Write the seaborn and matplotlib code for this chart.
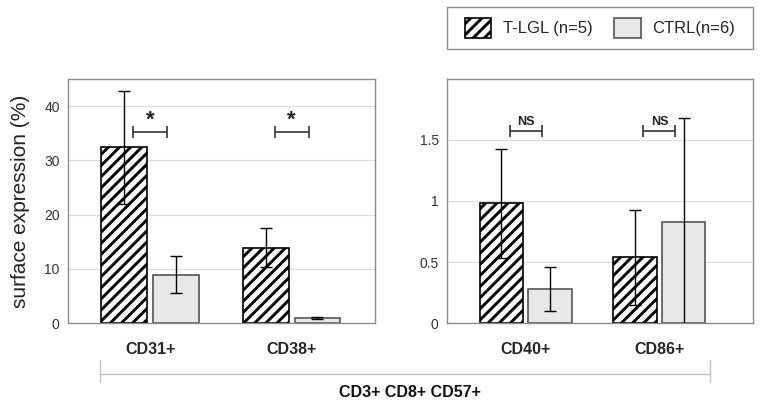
import numpy as np
import pandas as pd
import matplotlib
matplotlib.use("Agg")
import matplotlib.pyplot as plt
import seaborn as sns
from matplotlib.lines import Line2D
from matplotlib.patches import Patch, Rectangle

# values
groups = ["T-LGL (n=5)", "CTRL(n=6)"]

markers_left = ["CD31+", "CD38+"]
tlgl_left = [32.4, 13.9]
tlgl_left_sd = [10.4, 3.6]
ctrl_left = [8.9, 0.9]
ctrl_left_sd = [3.45, 0.12]
sig_left = ["*", "*"]
sig_left_y = [35.2, 35.2]

markers_right = ["CD40+", "CD86+"]
tlgl_right = [0.98, 0.54]
tlgl_right_sd = [0.45, 0.39]
ctrl_right = [0.28, 0.83]
ctrl_right_sd = [0.18, 0.85]
sig_right = ["NS", "NS"]
sig_right_y = [1.57, 1.57]

group_label = "CD3+ CD8+ CD57+"

sns.set_style("white")
plt.rcParams["font.family"] = ["Liberation Sans", "DejaVu Sans"]
plt.rcParams["hatch.linewidth"] = 2.1

fill_colors = ["white", "#e8e8e8"]
edge_colors = ["black", "#555555"]
hatches = ["///", ""]
frame_color = "#8c8c8c"


def draw_panel(ax, markers, tlgl, tlgl_sd, ctrl, ctrl_sd, sig, sig_y, sig_size, sig_offset):
    df = pd.DataFrame({
        "marker": markers * 2,
        "group": [groups[0]] * len(markers) + [groups[1]] * len(markers),
        "value": tlgl + ctrl,
    })
    sns.barplot(data=df, x="marker", y="value", hue="group", hue_order=groups,
                palette=fill_colors, saturation=1, width=0.73, gap=0.115,
                errorbar=None, legend=False, ax=ax, zorder=2)

    for k, (container, vals, sds) in enumerate(zip(ax.containers, [tlgl, ctrl], [tlgl_sd, ctrl_sd])):
        for bar, v, s in zip(container, vals, sds):
            bar.set_hatch(hatches[k])
            bar.set_edgecolor(edge_colors[k])
            bar.set_linewidth(1.2)
            cx = bar.get_x() + bar.get_width() / 2
            ax.errorbar(cx, v, yerr=s, color="black", lw=1, capsize=4,
                        capthick=1, zorder=5)

    # significance brackets
    xs = np.arange(len(markers))
    ax.errorbar(xs, sig_y, xerr=0.12, fmt="none", ecolor="#333333", lw=1.2,
                capsize=4, capthick=1.2, zorder=5)
    for x, y, s in zip(xs, sig_y, sig):
        ax.text(x, y + sig_offset, s, ha="center", va="bottom",
                fontsize=sig_size, fontweight="bold", color="#222222")

    for sp in ax.spines.values():
        sp.set_visible(True)
        sp.set_color(frame_color)
        sp.set_linewidth(1)
    ax.yaxis.grid(True, color="#dcdcdc", lw=0.8)
    ax.set_axisbelow(True)
    ax.set_xlabel("")
    ax.set_ylabel("")
    ax.tick_params(axis="x", length=0, pad=14, labelsize=11.5)
    ax.tick_params(axis="y", length=3, color=frame_color, labelcolor="#333333",
                   labelsize=10, pad=3)
    for lab in ax.get_xticklabels():
        lab.set_fontweight("bold")


fig = plt.figure(figsize=(7.61, 4.11), dpi=100)
ax1 = fig.add_axes([0.0894, 0.2141, 0.4034, 0.5937])
ax2 = fig.add_axes([0.5874, 0.2141, 0.4021, 0.5937])

draw_panel(ax1, markers_left, tlgl_left, tlgl_left_sd, ctrl_left, ctrl_left_sd,
           sig_left, sig_left_y, 16, 0.2)
ax1.set_ylim(0, 45)
ax1.set_yticks([0, 10, 20, 30, 40])
ax1.set_xlim(-0.58, 1.59)
ax1.set_ylabel("surface expression (%)", fontsize=15, color="#222222", labelpad=10)

draw_panel(ax2, markers_right, tlgl_right, tlgl_right_sd, ctrl_right, ctrl_right_sd,
           sig_right, sig_right_y, 9, 0.03)
ax2.set_ylim(0, 2.0)
ax2.set_yticks([0, 0.5, 1.0, 1.5])
ax2.set_yticklabels(["0", "0.5", "1", "1.5"])
ax2.set_xlim(-0.588, 1.70)

# legend in its own box above the right panel
handles = [Patch(facecolor=fill_colors[0], edgecolor=edge_colors[0], hatch=hatches[0], lw=1.2),
           Patch(facecolor=fill_colors[1], edgecolor=edge_colors[1], lw=1.2)]
fig.legend(handles=handles, labels=groups, loc="center",
           bbox_to_anchor=(0.5874 + 0.4021 / 2, 0.8808 + 0.1022 / 2), ncol=2,
           frameon=False, fontsize=12, handlelength=1.6, handleheight=1.5,
           handletextpad=0.7, columnspacing=1.3)
fig.add_artist(Rectangle((0.5874, 0.8808), 0.4021, 0.1022, transform=fig.transFigure,
                         fill=False, edgecolor=frame_color, lw=1))

# group bracket under both panels
bx0, bx1, by = 0.1314, 0.933, 0.090
bracket_color = "#c0c0c0"
fig.add_artist(Line2D([bx0, bx1], [by, by], transform=fig.transFigure, color=bracket_color, lw=1))
for bx in (bx0, bx1):
    fig.add_artist(Line2D([bx, bx], [0.0706, 0.124], transform=fig.transFigure,
                          color=bracket_color, lw=1))
fig.text(0.539, 0.046, group_label, ha="center", va="center", fontsize=11.5,
         fontweight="bold", color="#111111")

fig.savefig("out.png", dpi=100)
